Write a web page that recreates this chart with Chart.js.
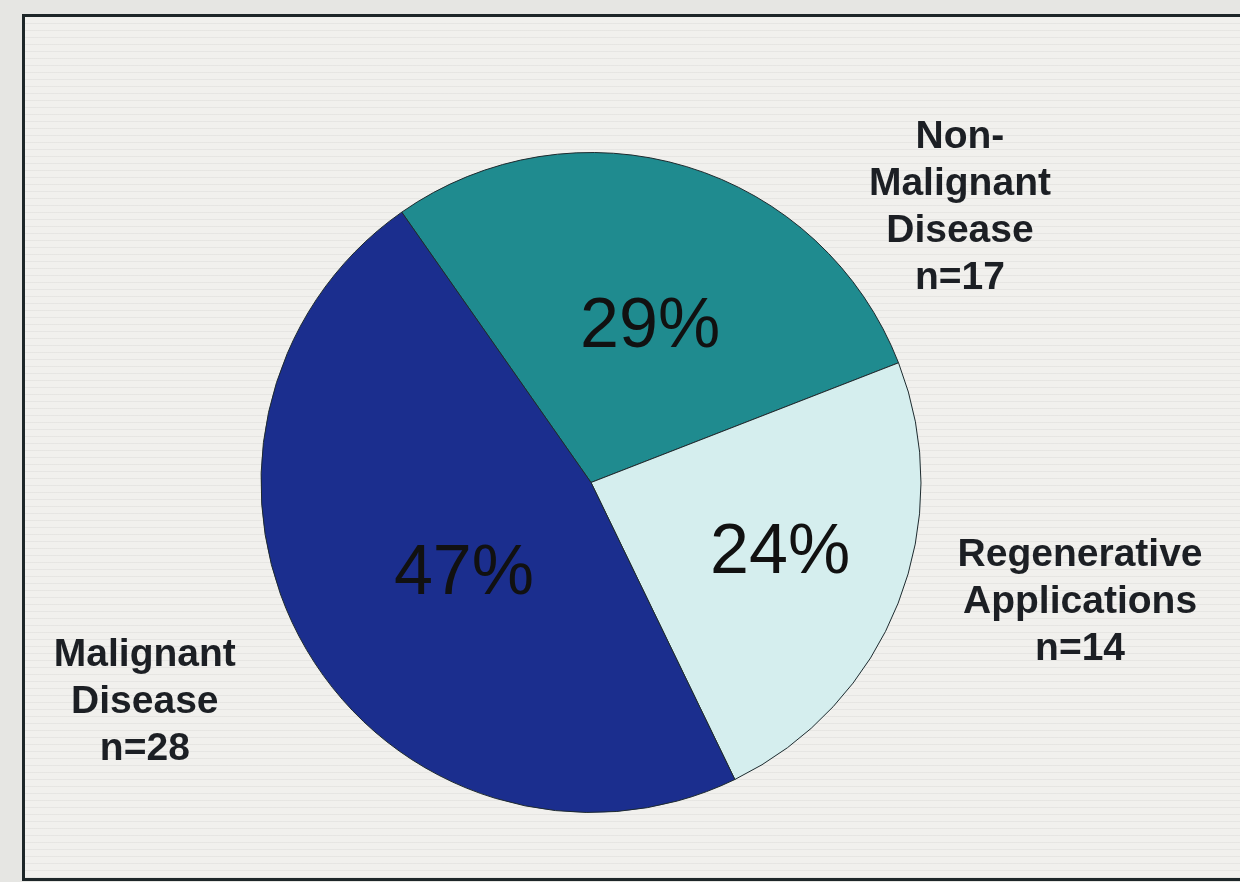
<!DOCTYPE html>
<html>
<head>
<meta charset="utf-8">
<script src="https://cdn.jsdelivr.net/npm/chart.js@4/dist/chart.umd.min.js"></script>
<style>
  html, body { margin: 0; padding: 0; }
  body { width: 1240px; height: 882px; background: #e6e6e3; position: relative; overflow: hidden; }
  #frame {
    position: absolute; left: 22px; top: 14px; width: 1240px; height: 861px;
    border: 3px solid #1d2628; border-right: none;
    background-color: #f1f0ed;
    background-image: repeating-linear-gradient(0deg, rgba(90,90,90,0.07) 0px, rgba(90,90,90,0.07) 1px, transparent 1px, transparent 7px);
  }
  #wrap { position: absolute; left: 0; top: 0; width: 1240px; height: 882px; }
</style>
</head>
<body>
<div id="frame"></div>
<div id="wrap"><canvas id="myChart"></canvas></div>
<script>
// data
const categories = ['Non-Malignant Disease', 'Regenerative Applications', 'Malignant Disease'];
const counts = [17, 14, 28];
const percentLabels = ['29%', '24%', '47%'];
const outerLabels = [
    ['Non-', 'Malignant', 'Disease', 'n=17'],
    ['Regenerative', 'Applications', 'n=14'],
    ['Malignant', 'Disease', 'n=28']
];
const sliceColors = ['#1f8b8f', '#d5eeee', '#1b2e8e'];

// label placement relative to pie centre, in units of radius
const innerPos = [
    { dx: 0.179, dy: -0.412 },
    { dx: 0.573, dy: 0.273 },
    { dx: -0.385, dy: 0.339 }
];
const outerPos = [
    { dx: 1.118, dy: -0.833 },
    { dx: 1.482, dy: 0.364 },
    { dx: -1.352, dy: 0.667 }
];

const labelPlugin = {
    id: 'sliceLabels',
    afterDatasetsDraw(chart) {
        const ctx = chart.ctx;
        const arcs = chart.getDatasetMeta(0).data;
        ctx.save();
        ctx.fillStyle = '#111';
        ctx.textAlign = 'center';
        ctx.textBaseline = 'alphabetic';
        ctx.font = '70px "Liberation Sans", Arial, sans-serif';
        arcs.forEach((arc, i) => {
            const r = arc.outerRadius;
            ctx.fillText(percentLabels[i], arc.x + innerPos[i].dx * r, arc.y + innerPos[i].dy * r);
        });
        ctx.textBaseline = 'middle';
        ctx.font = 'bold 39px "Liberation Sans", Arial, sans-serif';
        ctx.fillStyle = '#1c1f24';
        arcs.forEach((arc, i) => {
            const lines = outerLabels[i];
            const cx = arc.x + outerPos[i].dx * arc.outerRadius;
            const cy = arc.y + outerPos[i].dy * arc.outerRadius;
            const lh = 47;
            lines.forEach((t, k) => {
                ctx.fillText(t, cx, cy + (k - (lines.length - 1) / 2) * lh);
            });
        });
        ctx.restore();
    }
};

function piechart() {
    const ctx = document.getElementById('myChart').getContext('2d');
    new Chart(ctx, {
        type: 'pie',
        data: {
            labels: categories,
            datasets: [{
                data: counts,
                backgroundColor: sliceColors,
                borderColor: '#1e2a2e',
                borderWidth: 1
            }]
        },
        options: {
            responsive: true,
            maintainAspectRatio: false,
            animation: false,
            rotation: -35,
            layout: { padding: { left: 260, right: 318, top: 152, bottom: 69 } },
            plugins: {
                legend: { display: false },
                tooltip: { enabled: false }
            }
        },
        plugins: [labelPlugin]
    });
}

piechart();
</script>
</body>
</html>
